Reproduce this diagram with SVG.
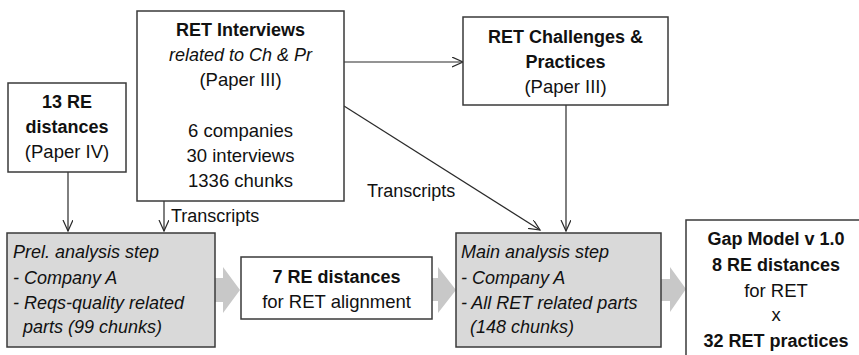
<svg xmlns="http://www.w3.org/2000/svg" width="859" height="355" viewBox="0 0 859 355">
  <style>
    .box { fill: #ffffff; stroke: #3a3a3a; stroke-width: 1.5; }
    .step { fill: #d9d9d9; stroke: #3a3a3a; stroke-width: 1.5; }
    .flow { fill: #c8c8c8; stroke: none; }
    .link { fill: none; stroke: #2a2a2a; stroke-width: 1.2; }
    text { font-family: "Liberation Sans", Arial, sans-serif; fill: #111111; }
    .b { font-size: 18px; font-weight: bold; }
    .r { font-size: 18.5px; }
    .i { font-size: 18px; font-style: italic; }
    .lbl { font-size: 18px; }
    .c { text-anchor: middle; }
  </style>
  <defs>
    <marker id="open" markerUnits="userSpaceOnUse" markerWidth="14" markerHeight="12" refX="11" refY="5" orient="auto">
      <path d="M0,0 L11,5 L0,10" fill="none" stroke="#2a2a2a" stroke-width="1.2"/>
    </marker>
  </defs>

  <rect width="859" height="355" fill="#ffffff"/>

  <!-- broad process arrows between the analysis stages -->
  <g id="process-arrows">
    <polygon class="flow" points="212,278 223,278 223,267 240,290 223,313 223,302 212,302"/>
    <polygon class="flow" points="430,278 438,278 438,267 456,290 438,313 438,301 430,301"/>
    <polygon class="flow" points="658,279 670,279 670,267 686,289 670,312 670,301 658,301"/>
  </g>

  <!-- thin connectors -->
  <g id="connectors">
    <line class="link" x1="68" y1="172" x2="68" y2="231" marker-end="url(#open)"/>
    <line class="link" x1="164" y1="201" x2="164" y2="231" marker-end="url(#open)"/>
    <line class="link" x1="344" y1="62" x2="463" y2="62" marker-end="url(#open)"/>
    <line class="link" x1="344" y1="106" x2="540" y2="230" marker-end="url(#open)"/>
    <line class="link" x1="566" y1="105" x2="566" y2="231" marker-end="url(#open)"/>
    <text class="lbl" x="171" y="222">Transcripts</text>
    <text class="lbl" x="367" y="197">Transcripts</text>
  </g>

  <g id="re-distances-13">
    <rect class="box" x="8" y="83" width="118" height="89"/>
    <text class="b c" x="67" y="108">13 RE</text>
    <text class="b c" x="67" y="133">distances</text>
    <text class="r c" x="67" y="158">(Paper IV)</text>
  </g>

  <g id="ret-interviews">
    <rect class="box" x="137" y="11" width="207" height="190"/>
    <text class="b c" x="240.5" y="36">RET Interviews</text>
    <text class="i c" x="240.5" y="61">related to Ch &amp; Pr</text>
    <text class="r c" x="240.5" y="86">(Paper III)</text>
    <text class="r c" x="240.5" y="137">6 companies</text>
    <text class="r c" x="240.5" y="162">30 interviews</text>
    <text class="r c" x="240.5" y="187">1336 chunks</text>
  </g>

  <g id="ret-challenges">
    <rect class="box" x="463" y="17" width="205" height="88"/>
    <text class="b c" x="565.5" y="43">RET Challenges &amp;</text>
    <text class="b c" x="565.5" y="68">Practices</text>
    <text class="r c" x="565.5" y="93">(Paper III)</text>
  </g>

  <g id="prel-analysis">
    <rect class="step" x="7" y="233" width="208" height="114"/>
    <text class="i" x="13" y="258">Prel. analysis step</text>
    <text class="i" x="13" y="284">- Company A</text>
    <text class="i" x="13" y="309">- Reqs-quality related</text>
    <text class="i" x="23" y="333">parts (99 chunks)</text>
  </g>

  <g id="re-distances-7">
    <rect class="box" x="241" y="257" width="191" height="62"/>
    <text class="b c" x="336.5" y="283">7 RE distances</text>
    <text class="r c" x="336.5" y="308">for RET alignment</text>
  </g>

  <g id="main-analysis">
    <rect class="step" x="456" y="233" width="205" height="114"/>
    <text class="i" x="461" y="258">Main analysis step</text>
    <text class="i" x="461" y="284">- Company A</text>
    <text class="i" x="461" y="309">- All RET related parts</text>
    <text class="i" x="470" y="333">(148 chunks)</text>
  </g>

  <g id="gap-model">
    <rect class="box" x="686" y="220" width="200" height="160"/>
    <text class="b c" x="776" y="245">Gap Model v 1.0</text>
    <text class="b c" x="776" y="271">8 RE distances</text>
    <text class="r c" x="776" y="297">for RET</text>
    <text class="r c" x="776" y="321">x</text>
    <text class="b c" x="776" y="347">32 RET practices</text>
  </g>
</svg>
